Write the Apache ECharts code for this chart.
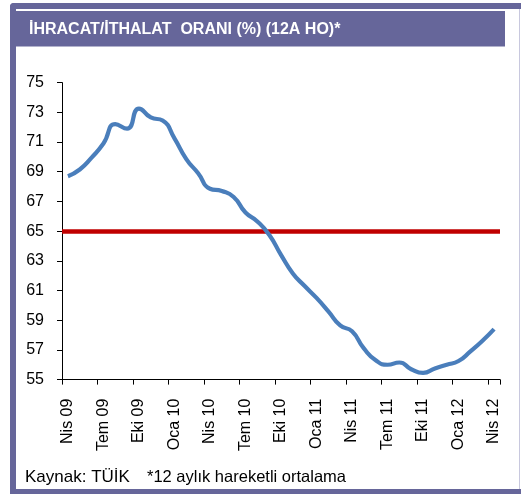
<!DOCTYPE html>
<html>
<head>
<meta charset="utf-8">
<script src="https://cdn.jsdelivr.net/npm/echarts@6/dist/echarts.min.js"></script>
<style>
html,body{margin:0;padding:0;background:#fff;}
#c{width:521px;height:495px;}
</style>
</head>
<body>
<div id="c"></div>
<script>
const titleText = "İHRACAT/İTHALAT  ORANI (%) (12A HO)*";
const sourceText = "Kaynak: TÜİK";
const noteText = "*12 aylık hareketli ortalama";
const categories = [
  "Nis 09","May 09","Haz 09","Tem 09","Ağu 09","Eyl 09","Eki 09","Kas 09","Ara 09",
  "Oca 10","Şub 10","Mar 10","Nis 10","May 10","Haz 10","Tem 10","Ağu 10","Eyl 10","Eki 10","Kas 10","Ara 10",
  "Oca 11","Şub 11","Mar 11","Nis 11","May 11","Haz 11","Tem 11","Ağu 11","Eyl 11","Eki 11","Kas 11","Ara 11",
  "Oca 12","Şub 12","Mar 12","Nis 12"
];
const ratio = [
  68.7,69.15,69.95,70.9,72.2,71.9,73.25,72.65,72.45,
  71.25,69.85,68.9,67.85,67.7,67.3,66.25,65.65,64.75,63.4,62.15,61.3,
  60.5,59.6,58.65,58.25,57.1,56.3,56.0,56.15,55.7,55.45,55.75,56.0,
  56.25,56.9,57.6,58.4
];
const threshold = 65;
const yMin = 55, yMax = 75, yStep = 2;

const purple = '#66669a';
const font = 'Liberation Sans, Arial, sans-serif';
const chart = echarts.init(document.getElementById('c'), null, {renderer:'canvas'});
chart.setOption({
  animation:false,
  backgroundColor:'#fff',
  grid:{left:62, right:21, top:82.6, bottom:115.4, containLabel:false},
  xAxis:{
    type:'category',
    data:categories,
    boundaryGap:true,
    axisLine:{show:true, lineStyle:{color:'#000', width:1}},
    axisTick:{show:true, interval:2, length:5, lineStyle:{color:'#000'}},
    axisLabel:{interval:2, rotate:90, margin:19, color:'#000', fontSize:16, fontFamily:font},
    splitLine:{show:false}
  },
  yAxis:{
    type:'value',
    min:yMin, max:yMax, interval:yStep,
    axisLine:{show:true, lineStyle:{color:'#000', width:1}},
    axisTick:{show:true, length:5, lineStyle:{color:'#000'}},
    axisLabel:{margin:18, color:'#000', fontSize:16, fontFamily:font},
    splitLine:{show:false}
  },
  series:[{
    type:'line',
    data:ratio,
    smooth:0.55,
    symbol:'none',
    lineStyle:{color:'#4a7ebb', width:4.2},
    z:3,
    markLine:{
      silent:true,
      symbol:['none','none'],
      label:{show:false},
      lineStyle:{color:'#c00000', width:4.5, type:'solid'},
      data:[{yAxis:threshold}],
      z:2
    }
  }],
  graphic:[
    {type:'rect', shape:{x:10,y:3,width:511,height:6, r:[4,0,0,0]}, style:{fill:purple}},
    {type:'rect', shape:{x:10,y:3,width:6,height:491, r:[4,0,0,0]}, style:{fill:purple}},
    {type:'rect', shape:{x:10,y:489,width:511,height:5}, style:{fill:purple}},
    {type:'rect', shape:{x:519,y:9,width:1,height:480}, style:{fill:'#c8c8de'}},
    {type:'rect', shape:{x:15,y:11,width:490,height:35.5}, style:{fill:purple}},
    {type:'text', x:29, y:30, style:{text:titleText, fill:'#fff', font:'bold 16px '+font, textVerticalAlign:'middle'}},
    {type:'text', x:25, y:477, style:{text:sourceText, fill:'#000', font:'17px '+font, textVerticalAlign:'middle'}},
    {type:'text', x:147, y:477, style:{text:noteText, fill:'#000', font:'16.5px '+font, textVerticalAlign:'middle'}}
  ]
});
</script>
</body>
</html>
